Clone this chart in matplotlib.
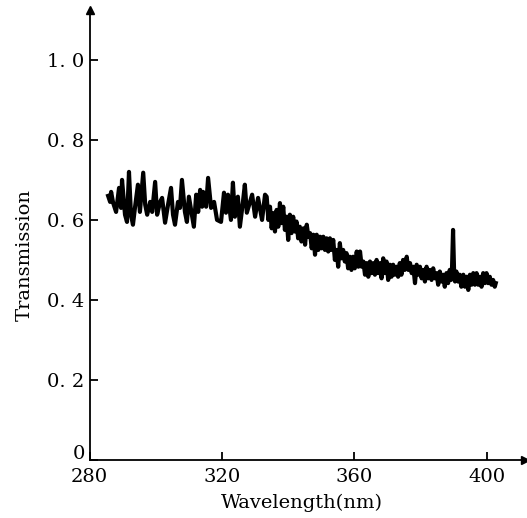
import matplotlib
matplotlib.use('Agg')
import matplotlib.pyplot as plt
import matplotlib.transforms as mtransforms

# wavelength (nm) and transmission
wavelength = [285.6, 286.2, 286.5, 287.1, 288.0, 288.9, 289.5, 289.8, 290.7, 291.3,
              291.9, 292.5, 293.1, 293.7, 294.6, 295.2, 296.2, 296.8, 297.4, 298.3,
              298.9, 299.8, 300.4, 301.3, 301.9, 302.8, 303.7, 304.6, 305.2, 305.8,
              306.7, 307.3, 307.9, 308.8, 309.4, 310.0, 310.9, 311.5, 312.2, 312.8,
              313.4, 314.0, 314.3, 315.2, 315.8, 316.7, 317.6, 318.5, 319.7, 320.6,
              321.2, 321.8, 322.7, 323.3, 323.9, 324.8, 325.4, 326.3, 326.9, 327.5,
              329.1, 330.0, 330.9, 332.1, 333.0,
              333.5, 334.0, 334.5, 335.0, 335.5, 336.0, 336.5, 337.0, 337.5, 338.0,
              338.5, 339.0, 339.5, 340.0, 340.5, 341.0, 341.5, 342.0, 342.5, 343.0,
              343.5, 344.0,
              344.6, 345.1, 345.6, 346.1, 346.6, 347.1, 347.6, 348.1, 348.6, 349.1,
              349.6, 350.1, 350.6, 351.1, 351.6, 352.1, 352.6, 353.1, 353.6, 354.1,
              354.6, 355.1, 355.6, 356.1, 356.6, 357.1, 357.6, 358.1, 358.6, 359.1,
              359.6, 360.1, 360.7, 361.2, 361.7, 362.2, 362.7, 363.2, 363.7, 364.2,
              364.7, 365.2, 365.7, 366.2, 366.7, 367.2, 367.7, 368.2, 368.7, 369.2,
              369.7, 370.2, 370.7, 371.2, 371.7, 372.2, 372.7, 373.2, 373.7, 374.2,
              374.7, 375.2,
              375.8, 376.3, 376.8, 377.3, 377.8, 378.3, 378.8, 379.3, 379.8, 380.3,
              380.8, 381.3, 381.8, 382.3, 382.8, 383.3, 383.8, 384.3, 384.8, 385.3,
              385.8, 386.3, 386.8, 387.3, 387.8, 388.3, 388.8, 389.2, 389.5, 389.8,
              390.1, 390.4, 390.8, 391.3, 391.8, 392.3, 392.9, 393.4, 393.9, 394.4,
              394.9, 395.4, 395.9, 396.4, 396.9, 397.4, 397.9, 398.4, 398.9, 399.4,
              399.9, 400.4, 400.9, 401.4, 401.9, 402.4, 402.7]
transmission = [0.66, 0.645, 0.67, 0.643, 0.62, 0.68, 0.63, 0.70, 0.613, 0.595,
                0.72, 0.613, 0.588, 0.63, 0.688, 0.62, 0.718, 0.638, 0.613, 0.645,
                0.62, 0.695, 0.613, 0.645, 0.655, 0.593, 0.638, 0.68, 0.613, 0.588,
                0.645, 0.63, 0.70, 0.62, 0.595, 0.658, 0.613, 0.583, 0.663, 0.62,
                0.675, 0.633, 0.67, 0.633, 0.705, 0.63, 0.645, 0.60, 0.595, 0.668,
                0.618, 0.663, 0.60, 0.693, 0.608, 0.658, 0.583, 0.643, 0.688, 0.618,
                0.663, 0.608, 0.655, 0.60, 0.663,
                0.658, 0.600, 0.633, 0.579, 0.617, 0.571, 0.625, 0.583, 0.642, 0.592,
                0.633, 0.575, 0.608, 0.55, 0.613, 0.567, 0.608, 0.571, 0.596, 0.554,
                0.583, 0.546,
                0.579, 0.538, 0.588, 0.558, 0.567, 0.529, 0.563, 0.513, 0.563, 0.525,
                0.558, 0.529, 0.558, 0.525, 0.554, 0.521, 0.554, 0.525, 0.55, 0.50,
                0.525, 0.483, 0.542, 0.504, 0.525, 0.496, 0.517, 0.479, 0.508, 0.475,
                0.508, 0.479, 0.521, 0.483, 0.521, 0.483, 0.496, 0.463, 0.492, 0.458,
                0.496, 0.467, 0.492, 0.463, 0.50, 0.467, 0.492, 0.454, 0.504, 0.467,
                0.496, 0.45, 0.488, 0.458, 0.488, 0.463, 0.483, 0.458, 0.492, 0.463,
                0.50, 0.475,
                0.508, 0.475, 0.492, 0.467, 0.483, 0.442, 0.488, 0.463, 0.483, 0.454,
                0.475, 0.446, 0.483, 0.454, 0.475, 0.45, 0.479, 0.454, 0.467, 0.438,
                0.471, 0.446, 0.463, 0.433, 0.467, 0.442, 0.475, 0.45, 0.483, 0.575,
                0.475, 0.446, 0.471, 0.446, 0.463, 0.433, 0.463, 0.433, 0.458, 0.425,
                0.463, 0.438, 0.467, 0.438, 0.467, 0.438, 0.458, 0.433, 0.467, 0.442,
                0.467, 0.442, 0.458, 0.438, 0.45, 0.433, 0.442]

xticks = [280, 320, 360, 400]
yticks = [0, 0.2, 0.4, 0.6, 0.8, 1.0]
ytick_labels = ['0', '0. 2', '0. 4', '0. 6', '0. 8', '1. 0']

plt.rcParams['font.family'] = ['DejaVu Serif']

fig = plt.figure(figsize=(5.27, 5.18), dpi=100)
ax = fig.add_axes([0.17, 0.112, 0.826, 0.869])

ax.plot(wavelength, transmission, color='black', lw=3.0, solid_joinstyle='round')

ax.set_xlim(280, 411.5)
ax.set_ylim(0, 1.125)
ax.spines['top'].set_visible(False)
ax.spines['right'].set_visible(False)
ax.spines['left'].set_linewidth(1.3)
ax.spines['bottom'].set_linewidth(1.3)

# arrow heads at the axis ends
ax.plot(0, 1, '^', color='black', ms=6, transform=ax.transAxes, clip_on=False)
ax.plot(1, 0, '>', color='black', ms=6, transform=ax.transAxes, clip_on=False)

ax.set_xticks(xticks)
ax.set_xticklabels([str(t) for t in xticks])
ax.set_yticks(yticks)
ax.set_yticklabels(ytick_labels)
ax.tick_params(direction='in', length=6, width=1.3, labelsize=14)
ax.tick_params(axis='y', pad=3.5)
ax.tick_params(axis='x', pad=6)

# the "0" at the origin sits a little above the x axis
lbl0 = ax.get_yticklabels()[0]
lbl0.set_transform(lbl0.get_transform() +
                   mtransforms.ScaledTranslation(0, 6 / 72, fig.dpi_scale_trans))

ax.set_xlabel('Wavelength(nm)', fontsize=14)
ax.set_ylabel('Transmission', fontsize=14)
ax.xaxis.set_label_coords(0.488, -0.074)
ax.yaxis.set_label_coords(-0.128, 0.455)

fig.savefig('out.png', dpi=100)
